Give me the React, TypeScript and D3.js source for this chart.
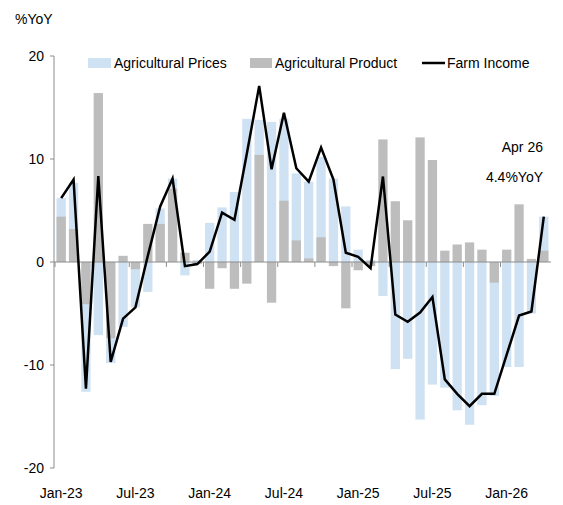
import React from "react";
import * as d3 from "d3";

const months: Date[] = d3.timeMonths(new Date(2023, 0, 1), new Date(2026, 4, 1));
const fmt = d3.timeFormat("%b-%y");

const agPrices: number[] = [
  6.2, 7.7, -12.6, -7.1, -9.8, -6.3, -4.4, -2.9, 5.2, 8.1,
  -1.3, 0.2, 3.8, 5.3, 6.8, 13.9, 13.8, 13.6, 13.9, 8.6,
  7.8, 10.2, 8.1, 5.4, 1.2, 0.2, -3.3, -10.4, -9.4, -15.3,
  -11.9, -12.2, -14.4, -15.8, -13.9, -13.0, -10.2, -10.2, -5.0, 4.4,
];
const agProduct: number[] = [
  4.4, 3.2, -4.1, 16.4, -7.4, 0.6, -0.7, 3.7, 3.7, 7.1,
  0.9, -0.2, -2.6, -0.6, -2.6, -2.1, 10.4, -3.95, 5.95, 2.1,
  0.35, 2.4, -0.4, -4.5, -0.8, -0.4, 11.9, 5.9, 4.05, 12.1,
  9.9, 1.1, 1.7, 1.9, 1.2, -2.0, 1.2, 5.6, 0.3, 1.1,
];
const farmIncome: number[] = [
  6.2, 8.0, -12.3, 8.35, -9.7, -5.5, -4.4, 0.6, 5.4, 8.1,
  -0.4, -0.2, 1.0, 4.8, 4.1, 10.5, 17.1, 9.0, 14.5, 9.1,
  7.8, 11.1, 8.0, 0.9, 0.5, -0.6, 8.3, -5.1, -5.8, -4.9,
  -3.4, -11.4, -12.8, -14.0, -12.8, -12.8, -9.0, -5.2, -4.8, 4.4,
];
const yTicks: number[] = [-20, -10, 0, 10, 20];
const xLabelEvery = 6;
const xTickEvery = 3;
const seriesNames = ["Agricultural Prices", "Agricultural Product", "Farm Income"];

const W = 563;
const H = 505;
const BLUE = "#cfe2f3";
const GRAY = "#bdbdbd";
const AXIS = "#8c8c8c";
const FONT = "'Liberation Sans', Arial, sans-serif";

export default function App() {
  const idx = months.map((_, i) => i);
  const x = d3.scaleBand<number>().domain(idx).range([55, 550]).paddingInner(0.25).paddingOuter(0.125);
  const y = d3.scaleLinear().domain([-20, 20]).range([468, 56]);
  const cx = (i: number) => (x(i) as number) + x.bandwidth() / 2;
  const line = d3
    .line<number>()
    .x((_, i) => cx(i))
    .y((d) => y(d));
  const y0 = y(0);
  const step = x.step();
  const bandStart = (i: number) => cx(i) - step / 2;

  const bar = (v: number, i: number, fill: string, key: string) => (
    <rect
      key={key}
      x={x(i)}
      width={x.bandwidth()}
      y={Math.min(y(v), y0)}
      height={Math.abs(y(v) - y0)}
      fill={fill}
    />
  );

  return (
    <svg width={W} height={H} style={{ position: "absolute", left: 0, top: 0, background: "#fff" }} fontFamily={FONT}>
      <text x={15} y={24} fontSize={14} fill="#000">%YoY</text>

      {agPrices.map((v, i) => bar(v, i, BLUE, "p" + i))}
      {agProduct.map((v, i) => bar(v, i, GRAY, "g" + i))}

      {/* y axis */}
      <line x1={54} x2={54} y1={y(20)} y2={y(-20)} stroke={AXIS} strokeWidth={1} />
      {yTicks.map((t) => (
        <g key={t}>
          <line x1={50} x2={54} y1={y(t)} y2={y(t)} stroke={AXIS} />
          <text x={44} y={y(t)} dy="0.35em" textAnchor="end" fontSize={14} fill="#000">{t}</text>
        </g>
      ))}

      {/* zero line + ticks */}
      <line x1={54} x2={551} y1={y0} y2={y0} stroke={AXIS} strokeWidth={1} />
      {idx.filter((i) => i % xTickEvery === 0).map((i) => (
        <line key={"t" + i} x1={bandStart(i)} x2={bandStart(i)} y1={y0} y2={y0 + 5} stroke={AXIS} />
      ))}

      <path d={line(farmIncome) || ""} fill="none" stroke="#000" strokeWidth={2.5} strokeLinejoin="miter" />

      {idx.filter((i) => i % xLabelEvery === 0).map((i) => (
        <text key={"l" + i} x={cx(i)} y={498} textAnchor="middle" fontSize={14} fill="#000">
          {fmt(months[i])}
        </text>
      ))}

      {/* legend */}
      <rect x={88} y={58} width={23} height={10} fill={BLUE} />
      <text x={114} y={68} fontSize={14} fill="#000">{seriesNames[0]}</text>
      <rect x={250} y={58} width={22} height={10} fill={GRAY} />
      <text x={275} y={68} fontSize={14} fill="#000">{seriesNames[1]}</text>
      <line x1={422} x2={445} y1={63} y2={63} stroke="#000" strokeWidth={2.5} />
      <text x={447} y={68} fontSize={14} fill="#000">{seriesNames[2]}</text>

      {/* annotation */}
      <text x={543} y={152} textAnchor="end" fontSize={14} fill="#000">Apr 26</text>
      <text x={543} y={182} textAnchor="end" fontSize={14} fill="#000">
        {farmIncome[farmIncome.length - 1].toFixed(1)}%YoY
      </text>
    </svg>
  );
}
